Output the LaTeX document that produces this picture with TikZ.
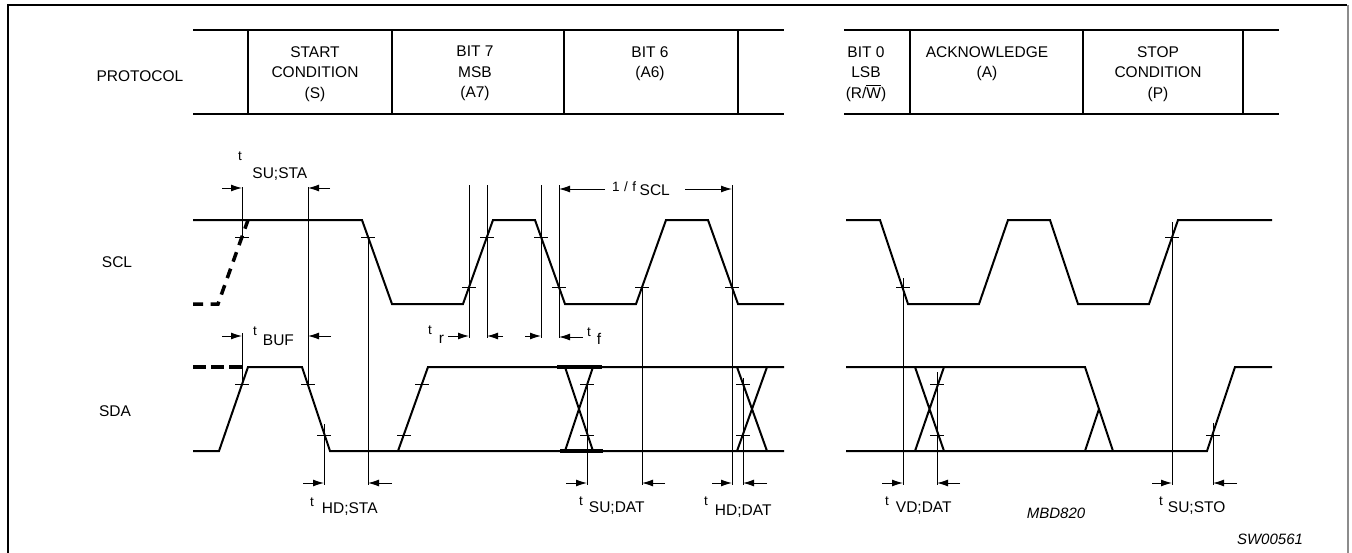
\documentclass[tikz,border=0pt]{standalone}
\usepackage{amsmath}
\usepackage{fontspec}
\setmainfont{Liberation Sans}
\usetikzlibrary{arrows.meta}

\tikzset{
    wave/.style={line width=2pt},
    dashwave/.style={line width=3.5pt, dash pattern=on 10pt off 7.5pt},
    bar/.style={line width=4pt},
    thinline/.style={line width=1pt},
    dim/.style={thinline, -{Latex[length=11pt,width=7pt]}},
    cell/.style={line width=1.5pt},
    proto/.style={font=\fontsize{15.5}{20.5}\selectfont, align=center, anchor=north, inner sep=0pt},
    sig/.style={font=\fontsize{15.5}{18}\selectfont, inner sep=0pt},
    tname/.style={font=\fontsize{15.5}{18}\selectfont, anchor=base west, inner sep=0pt},
    tag/.style={font=\fontsize{15}{18}\selectfont\itshape, inner sep=0pt}
}
% small raised prefix, then the timing name
\newcommand{\tlab}[4]{\raisebox{#1}{\fontsize{13.5}{13.5}\selectfont #3}\hspace{#2}#4}

\begin{document}
\begin{tikzpicture}[x=1pt,y=-1pt]
    \useasboundingbox (0,0) rectangle (1352,552);
    %Frame
    \draw[line width=2pt] (8,560) -- (8,5) -- (1347,5);
    \draw[line width=1.5pt, black!45] (1348,5) -- (1348,560);
    %Protocol table
    \draw[cell] (193,30) -- (784,30) (193,114) -- (784,114);
    \draw[cell] (844,30) -- (1279,30) (844,114) -- (1279,114);
    \draw[cell] (248,30) -- (248,114) (392,30) -- (392,114) (564,30) -- (564,114) (738,30) -- (738,114);
    \draw[cell] (910,30) -- (910,114) (1083,30) -- (1083,114) (1243,30) -- (1243,114);
    \node[sig] (protocol) at (140,76) {PROTOCOL};
    \node[proto] (start) at (315,46) {START\\CONDITION\\(S)};
    \node[proto] (bit7) at (475,46) {BIT 7\\MSB\\(A7)};
    \node[proto] (bit6) at (650,46) {BIT 6\\(A6)};
    \node[proto] (bit0) at (866,46) {BIT 0\\LSB\\(R/$\overline{\text{W}}$)};
    \node[proto] (ack) at (987,46) {ACKNOWLEDGE\\(A)};
    \node[proto] (stop) at (1158,46) {STOP\\CONDITION\\(P)};
    %Signal names
    \node[sig] (scl) at (117,262) {SCL};
    \node[sig] (sda) at (115,411) {SDA};
    %SCL
    \draw[dashwave] (193,304) -- (218,304) -- (248,220);
    \draw[wave] (193,220) -- (362,220) -- (392,304) -- (463,304) -- (493,220) -- (535,220) -- (565,304)
        -- (636,304) -- (666,220) -- (708,220) -- (738,304) -- (784,304);
    \draw[wave] (846,220) -- (880,220) -- (908,304) -- (979,304) -- (1008,220) -- (1050,220) -- (1078,304)
        -- (1149,304) -- (1178,220) -- (1272,220);
    %SDA
    \draw[dashwave, dash pattern=on 13pt off 5pt] (193,367) -- (242,367);
    \draw[wave] (193,451) -- (219,451) -- (248,367) -- (302,367) -- (330,451) -- (784,451);
    \draw[wave] (398,451) -- (428,367) -- (784,367);
    \draw[wave] (565,367) -- (593,451) (565,451) -- (593,367);
    \draw[bar] (557,367) -- (602,367) (560,451) -- (603,451);
    \draw[wave] (737,367) -- (767,451) (737,451) -- (767,367);
    \draw[wave] (846,367) -- (1085,367) -- (1113,451);
    \draw[wave] (1085,451) -- (1099,409);
    \draw[wave] (846,451) -- (1207,451) -- (1235,367) -- (1272,367);
    \draw[wave] (915,367) -- (944,451) (915,451) -- (944,367);
    %Level marks
    \draw[thinline] (235,237) -- +(14,0);
    \draw[thinline] (361,237) -- +(14,0);
    \draw[thinline] (462,287) -- +(14,0);
    \draw[thinline] (480,237) -- +(14,0);
    \draw[thinline] (534,237) -- +(14,0);
    \draw[thinline] (552,287) -- +(14,0);
    \draw[thinline] (635,287) -- +(14,0);
    \draw[thinline] (725,287) -- +(14,0);
    \draw[thinline] (896,287) -- +(14,0);
    \draw[thinline] (1165,237) -- +(14,0);
    \draw[thinline] (235,384) -- +(14,0);
    \draw[thinline] (301,384) -- +(14,0);
    \draw[thinline] (317,435) -- +(14,0);
    \draw[thinline] (397,435) -- +(14,0);
    \draw[thinline] (415,384) -- +(14,0);
    \draw[thinline] (580,384) -- +(14,0);
    \draw[thinline] (580,435) -- +(14,0);
    \draw[thinline] (736,384) -- +(14,0);
    \draw[thinline] (736,435) -- +(14,0);
    \draw[thinline] (930,384) -- +(14,0);
    \draw[thinline] (930,435) -- +(14,0);
    \draw[thinline] (1206,435) -- +(14,0);
    %Reference lines
    \draw[thinline] (242,187) -- (242,237) (242,333) -- (242,384);
    \draw[thinline] (308,187) -- (308,384);
    \draw[thinline] (324,424) -- (324,485) (368,237) -- (368,485);
    \draw[thinline] (469,185) -- (469,338) (487,185) -- (487,338);
    \draw[thinline] (541,185) -- (541,338) (559,185) -- (559,338);
    \draw[thinline] (587,384) -- (587,485) (642,287) -- (642,485);
    \draw[thinline] (732,185) -- (732,485) (743,378) -- (743,485);
    \draw[thinline] (903,278) -- (903,485) (937,372) -- (937,485);
    \draw[thinline] (1172,222) -- (1172,485) (1213,423) -- (1213,485);
    %Timing arrows
    \draw[dim] (222,188) -- (242,188);
    \draw[dim] (330,188) -- (308,188);
    \draw[dim] (222,336) -- (242,336);
    \draw[dim] (331,336) -- (308,336);
    \draw[dim] (448,336) -- (469,336);
    \draw[dim] (503,336) -- (487,336);
    \draw[dim] (525,336) -- (541,336);
    \draw[dim] (583,337) -- (559,337);
    \draw[dim] (605,189) -- (559,189);
    \draw[dim] (685,189) -- (732,189);
    \draw[dim] (303,483) -- (324,483);
    \draw[dim] (392,483) -- (368,483);
    \draw[dim] (566,483) -- (587,483);
    \draw[dim] (665,483) -- (642,483);
    \draw[dim] (712,483) -- (732,483);
    \draw[dim] (767,483) -- (743,483);
    \draw[dim] (882,483) -- (903,483);
    \draw[dim] (960,483) -- (937,483);
    \draw[dim] (1152,483) -- (1172,483);
    \draw[dim] (1237,483) -- (1213,483);
    %Timing names
    \node[tname] (tsusta) at (238,178.5) {\tlab{18.5pt}{10.5pt}{t}{SU;STA}};
    \node[tname] (tbuf) at (253,345.5) {\tlab{10.5pt}{6pt}{t}{BUF}};
    \node[tname] (tr) at (428,343) {\tlab{8.5pt}{7pt}{t}{r}};
    \node[tname] (tf) at (587,344.5) {\tlab{8.5pt}{6pt}{t}{f}};
    \node[tname] (fscl) at (612,195.5) {\tlab{4.5pt}{3.5pt}{1\hspace{4.5pt}/\hspace{4.5pt}f}{SCL}};
    \node[tname] (thdsta) at (310,513.5) {\tlab{7.5pt}{8pt}{t}{HD;STA}};
    \node[tname] (tsudat) at (579,512.5) {\tlab{7.5pt}{6pt}{t}{SU;DAT}};
    \node[tname] (thddat) at (704,515) {\tlab{9.5pt}{7pt}{t}{HD;DAT}};
    \node[tname] (tvddat) at (885,512.5) {\tlab{7.5pt}{7pt}{t}{VD;DAT}};
    \node[tname] (tsusto) at (1159,512.5) {\tlab{7.5pt}{5pt}{t}{SU;STO}};
    %Figure codes
    \node[tag] (mbd) at (1056,513) {MBD820};
    \node[tag] (sw) at (1270,539) {SW00561};
\end{tikzpicture}
\end{document}
